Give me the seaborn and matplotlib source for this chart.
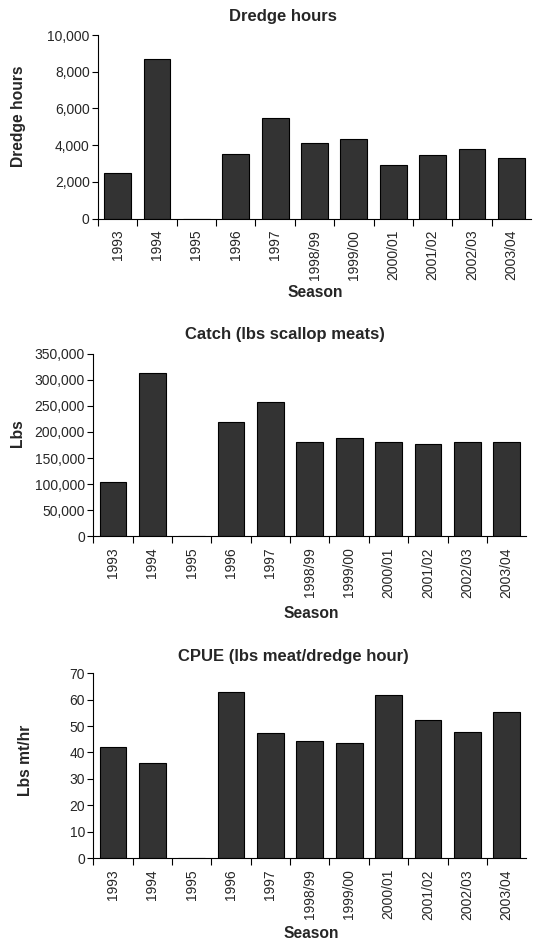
import numpy as np
import pandas as pd
import matplotlib
matplotlib.use("Agg")
import matplotlib.pyplot as plt
from matplotlib.ticker import FuncFormatter, FixedLocator
import seaborn as sns

# Data
seasons = ["1993", "1994", "1995", "1996", "1997", "1998/99", "1999/00",
           "2000/01", "2001/02", "2002/03", "2003/04"]
dredge_hours = [2500, 8700, 0, 3520, 5500, 4100, 4320, 2940, 3450, 3810, 3300]
catch_lbs = [105000, 313000, 0, 218500, 257500, 180000, 188500, 180000,
             177500, 180000, 180000]
cpue = [42.2, 36.1, 0, 63.0, 47.3, 44.2, 43.7, 61.9, 52.4, 47.6, 55.4]

sns.set_style("white")
plt.rcParams["font.family"] = ["Liberation Sans", "DejaVu Sans"]

W, H = 543, 943
fig = plt.figure(figsize=(W / 100, H / 100), dpi=100)

panels = [
    # values, title, ylabel, ymax, ystep, axes rect in pixels (left, top, width, height)
    (dredge_hours, "Dredge hours", "Dredge hours", 10000, 2000, (98, 35, 433, 183.7)),
    (catch_lbs, "Catch (lbs scallop meats)", "Lbs", 350000, 50000, (93.3, 353.7, 433, 182.6)),
    (cpue, "CPUE (lbs meat/dredge hour)", "Lbs mt/hr", 70, 10, (93.3, 673.3, 433, 184.7)),
]
# text positions in pixels (x, y from top)
title_pos = [(283, 17), (285, 335), (293, 656)]
season_pos = [(315, 293), (311, 614), (311, 933)]
ylabel_pos = [(19, 116), (17, 433), (25, 760)]

for i, (vals, title, ylab, ymax, ystep, (l, t, w, h)) in enumerate(panels):
    ax = fig.add_axes([l / W, (H - t - h) / H, w / W, h / H])
    df = pd.DataFrame({"Season": seasons, "Value": vals})
    sns.barplot(data=df, x="Season", y="Value", order=seasons, color="#333333",
                edgecolor="black", linewidth=0.8, width=0.68, saturation=1, ax=ax)
    ax.set_xlim(-0.5, len(seasons) - 0.5)
    ax.set_ylim(0, ymax)
    ax.set_yticks(np.arange(0, ymax + ystep / 2, ystep))
    ax.yaxis.set_major_formatter(FuncFormatter(lambda v, p: f"{v:,.0f}"))
    ax.tick_params(axis="y", direction="out", length=4, width=0.8,
                   labelsize=10, pad=2, left=True, color="black")
    # category labels centred, ticks between categories
    ax.set_xticks(range(len(seasons)))
    ax.set_xticklabels(seasons, rotation=90, fontsize=10)
    ax.tick_params(axis="x", which="major", length=0, pad=8)
    ax.xaxis.set_minor_locator(FixedLocator(np.arange(-0.5, len(seasons) - 0.5, 1)))
    ax.tick_params(axis="x", which="minor", direction="out", length=5,
                   width=0.8, bottom=True, color="black")
    sns.despine(ax=ax)
    for s in ["left", "bottom"]:
        ax.spines[s].set_color("black")
        ax.spines[s].set_linewidth(0.8)
    ax.set_xlabel("")
    ax.set_ylabel("")
    fig.text(title_pos[i][0] / W, 1 - title_pos[i][1] / H, title, fontsize=12,
             fontweight="bold", ha="center", va="center")
    fig.text(season_pos[i][0] / W, 1 - season_pos[i][1] / H, "Season", fontsize=11.25,
             fontweight="bold", ha="center", va="center")
    fig.text(ylabel_pos[i][0] / W, 1 - ylabel_pos[i][1] / H, ylab, rotation=90,
             fontsize=11.25, fontweight="bold", ha="center", va="center")

fig.savefig("out.png", dpi=100)
